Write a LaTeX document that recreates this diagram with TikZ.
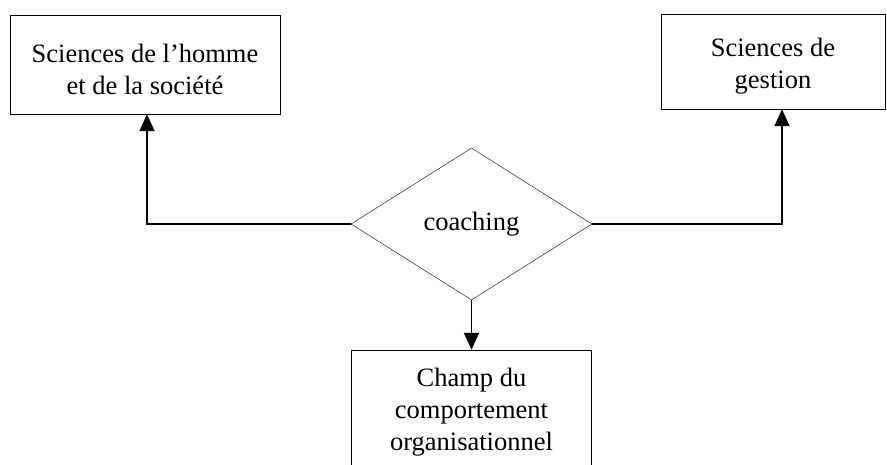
\documentclass[tikz,border=0pt]{standalone}
\usepackage{fontspec}
\setmainfont{Liberation Serif}
\usetikzlibrary{shapes.geometric,arrows.meta}
\tikzset{
	boite/.style={draw,thin,rectangle,align=center,inner sep=0pt},
	losange/.style={draw,thin,diamond,inner sep=0pt},
	fleche/.style={line width=1.6pt,-{Triangle[length=17pt,width=15pt]}}
}
\begin{document}
\begin{tikzpicture}[x=1pt,y=-1pt,font=\fontsize{26.5}{32}\selectfont]
		\useasboundingbox (0,0) rectangle (887,464);
		\node[boite,minimum width=270pt,minimum height=99pt] (hs) at (145,64.5) {\strut\\[-26pt]Sciences de l'homme\\et de la société};
		\node[boite,minimum width=224pt,minimum height=95pt] (gest) at (773,61.5) {\strut\\[-26pt]Sciences de\\gestion};
		\node[losange,minimum width=241pt,minimum height=152pt] (dia) at (471.5,224) {coaching};
		\node[boite,minimum width=240pt,minimum height=124pt] (champ) at (471.5,412) {Champ du\\comportement\\organisationnel};
		\draw[fleche] (dia.west) -| ([xshift=2pt]hs.south);
		\draw[fleche] (dia.east) -| ([xshift=9pt]gest.south);
		\draw[fleche] (dia.south) -- (champ.north);
		\end{tikzpicture}
\end{document}
